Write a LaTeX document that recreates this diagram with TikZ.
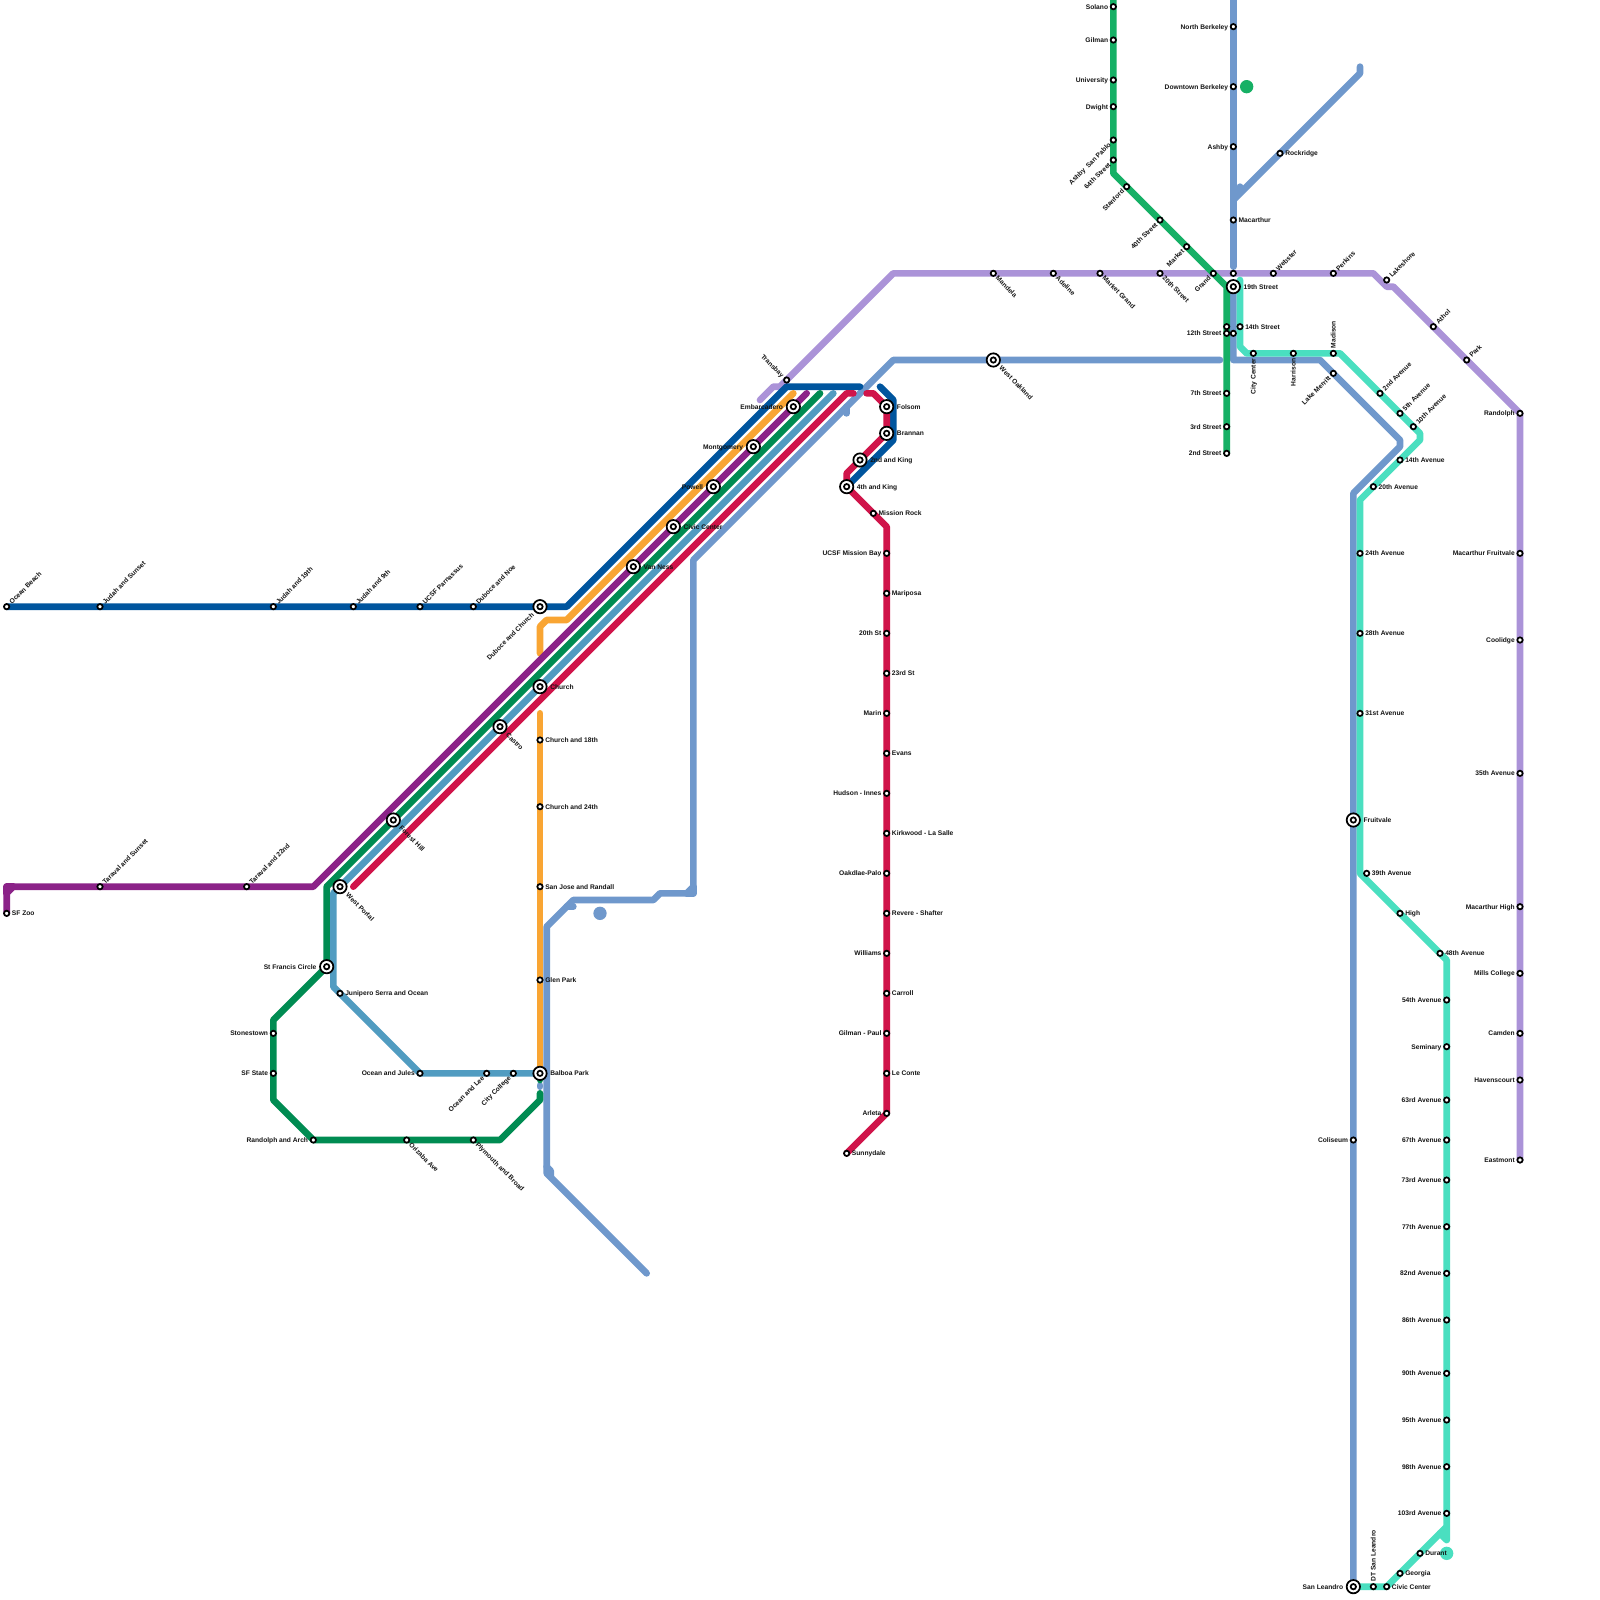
\documentclass[tikz,border=0pt]{standalone}
\usepackage{fontspec}
\setmainfont{Liberation Sans}[BoldFont={* Bold}]
\pgfdeclarelayer{lines}
\pgfsetlayers{lines,main}
\definecolor{cCrimson}{HTML}{D0144A}
\definecolor{cNavy}{HTML}{00559E}
\definecolor{cOrange}{HTML}{F9A533}
\definecolor{cPurple}{HTML}{8B2288}
\definecolor{cGreen}{HTML}{008C52}
\definecolor{cSteel}{HTML}{519CC1}
\definecolor{cPeri}{HTML}{6F98CC}
\definecolor{cLilac}{HTML}{AB93D8}
\definecolor{cBright}{HTML}{16B065}
\definecolor{cAqua}{HTML}{4ADFC0}
\newcommand\lbfont{\fontsize{5}{6}\selectfont\bfseries}
\def\labo{3.75pt}
\tikzset{
  metro/.style={line width=5pt,line cap=round,line join=round},
  stnode/.style={circle,draw=black,fill=white,line width=1.3pt,minimum size=4pt,inner sep=0pt},
  xfnode/.style={circle,draw=black,fill=white,line width=1.3pt,minimum size=10pt,inner sep=0pt},
  lab/.style={inner sep=0pt,font=\lbfont,text=black!92,text height=3.6pt,text depth=0pt},
  labR/.style={lab,anchor=west,xshift=\labo},
  labL/.style={lab,anchor=east,xshift=-\labo},
  labU/.style={lab,anchor=west,rotate=45,xshift=\labo},
  labD/.style={lab,anchor=west,rotate=-45,xshift=\labo},
  labB/.style={lab,anchor=east,rotate=45,xshift=-\labo},
  labA/.style={lab,anchor=east,rotate=-45,xshift=-\labo},
  labV/.style={lab,anchor=west,rotate=90,xshift=\labo},
  labW/.style={lab,anchor=east,rotate=90,xshift=-\labo},
}
\newcommand\mkst[5]{\node[stnode] (#1) at (#2,#3) {}; \node[lab#4] (#1-l) at (#1.center) {#5};}
\newcommand\mkxf[5]{\node[xfnode] (#1) at (#2,#3) {}; \node[stnode] (#1-i) at (#2,#3) {}; \def\labo{7.5pt}\node[lab#4] (#1-l) at (#1.center) {#5};\def\labo{3.75pt}}
\begin{document}
\begin{tikzpicture}[x=5pt,y=-5pt]
\useasboundingbox (0,0) rectangle (240,240);
% ---------- Stations
\mkst{obeach}{1}{91}{U}{Ocean Beach}
\mkst{jsunset}{15}{91}{U}{Judah and Sunset}
\mkst{j19}{41}{91}{U}{Judah and 19th}
\mkst{j9}{53}{91}{U}{Judah and 9th}
\mkst{ucsfp}{63}{91}{U}{UCSF Parnassus}
\mkst{dnoe}{71}{91}{U}{Duboce and Noe}
\mkxf{dchurch}{81}{91}{B}{Duboce and Church}
\mkst{zoo}{1}{137}{R}{SF Zoo}
\mkst{tsunset}{15}{133}{U}{Taraval and Sunset}
\mkst{t22}{37}{133}{U}{Taraval and 22nd}
\mkxf{wportal}{51}{133}{D}{West Portal}
\mkxf{fhill}{59}{123}{D}{Forest Hill}
\mkxf{castro}{75}{109}{D}{Castro}
\mkxf{church}{81}{103}{R}{Church}
\mkxf{vanness}{95}{85}{R}{Van Ness}
\mkxf{civic}{101}{79}{R}{Civic Center}
\mkxf{powell}{107}{73}{L}{Powell}
\mkxf{montg}{113}{67}{L}{Montgomery}
\mkxf{embarc}{119}{61}{L}{Embarcadero}
\mkst{transbay}{118}{57}{A}{Transbay}
\mkxf{folsom}{133}{61}{R}{Folsom}
\mkxf{brannan}{133}{65}{R}{Brannan}
\mkxf{king2}{129}{69}{R}{2nd and King}
\mkxf{king4}{127}{73}{R}{4th and King}
\mkst{mrock}{131}{77}{R}{Mission Rock}
\mkst{ucsfmb}{133}{83}{L}{UCSF Mission Bay}
\mkst{mariposa}{133}{89}{R}{Mariposa}
\mkst{s20}{133}{95}{L}{20th St}
\mkst{s23}{133}{101}{R}{23rd St}
\mkst{marin}{133}{107}{L}{Marin}
\mkst{evans}{133}{113}{R}{Evans}
\mkst{hudson}{133}{119}{L}{Hudson - Innes}
\mkst{kirk}{133}{125}{R}{Kirkwood - La Salle}
\mkst{oakd}{133}{131}{L}{Oakdlae-Palo}
\mkst{revere}{133}{137}{R}{Revere - Shafter}
\mkst{williams}{133}{143}{L}{Williams}
\mkst{carroll}{133}{149}{R}{Carroll}
\mkst{gilmanp}{133}{155}{L}{Gilman - Paul}
\mkst{leconte}{133}{161}{R}{Le Conte}
\mkst{arleta}{133}{167}{L}{Arleta}
\mkst{sunny}{127}{173}{R}{Sunnydale}
\mkxf{sfrancis}{49}{145}{L}{St Francis Circle}
\mkst{stones}{41}{155}{L}{Stonestown}
\mkst{sfstate}{41}{161}{L}{SF State}
\mkst{randarch}{47}{171}{L}{Randolph and Arch}
\mkst{orizaba}{61}{171}{D}{Orizaba Ave}
\mkst{plymouth}{71}{171}{D}{Plymouth and Broad}
\mkst{junipero}{51}{149}{R}{Junipero Serra and Ocean}
\mkst{ojules}{63}{161}{L}{Ocean and Jules}
\mkst{olee}{73}{161}{B}{Ocean and Lee}
\mkst{ccollege}{77}{161}{B}{City College}
\mkxf{balboa}{81}{161}{R}{Balboa Park}
\mkst{glen}{81}{147}{R}{Glen Park}
\mkst{sjr}{81}{133}{R}{San Jose and Randall}
\mkst{ch24}{81}{121}{R}{Church and 24th}
\mkst{ch18}{81}{111}{R}{Church and 18th}
\mkxf{woak}{149}{54}{D}{West Oakland}
\mkst{mandela}{149}{41}{D}{Mandela}
\mkst{adeline}{158}{41}{D}{Adeline}
\mkst{mgrand}{165}{41}{D}{Market Grand}
\mkst{street20}{174}{41}{D}{20th Street}
\mkst{solano}{167}{1}{L}{Solano}
\mkst{gilman}{167}{6}{L}{Gilman}
\mkst{univ}{167}{12}{L}{University}
\mkst{dwight}{167}{16}{L}{Dwight}
\mkst{asp}{167}{21}{B}{Ashby\ \ San Pablo}
\mkst{street64}{167}{24}{B}{64th Street}
\mkst{stanford}{169}{28}{B}{Stanford}
\mkst{street40}{174}{33}{B}{40th Street}
\mkst{market}{178}{37}{B}{Market}
\mkst{grand}{182}{41}{B}{Grand}
\mkst{nberk}{185}{4}{L}{North Berkeley}
\mkst{dberk}{185}{13}{L}{Downtown Berkeley}
\mkst{ashby}{185}{22}{L}{Ashby}
\mkst{macar}{185}{33}{R}{Macarthur}
\mkst{rock}{192}{23}{R}{Rockridge}
\node[stnode] (x41) at (185,41) {};
\mkxf{street19}{185}{43}{R}{19th Street}
\mkst{street14}{186}{49}{R}{14th Street}
\node[stnode] (x49) at (184,49) {};
\node[stnode] (x50) at (185,50) {};
\mkst{street12}{184}{50}{L}{12th Street}
\mkst{street7}{184}{59}{L}{7th Street}
\mkst{street3}{184}{64}{L}{3rd Street}
\mkst{street2}{184}{68}{L}{2nd Street}
\mkst{ccenter}{188}{53}{W}{City Center}
\mkst{harrison}{194}{53}{W}{Harrison}
\mkst{madison}{200}{53}{V}{Madison}
\mkst{lmerritt}{200}{56}{B}{Lake Merritt}
\mkst{webster}{191}{41}{U}{Webster}
\mkst{perkins}{200}{41}{U}{Perkins}
\mkst{lakesh}{208}{42}{U}{Lakeshore}
\mkst{athol}{215}{49}{U}{Athol}
\mkst{park}{220}{54}{U}{Park}
\mkst{randolph}{228}{62}{L}{Randolph}
\mkst{macfv}{228}{83}{L}{Macarthur Fruitvale}
\mkst{coolidge}{228}{96}{L}{Coolidge}
\mkst{av35}{228}{116}{L}{35th Avenue}
\mkst{machigh}{228}{136}{L}{Macarthur High}
\mkst{mills}{228}{146}{L}{Mills College}
\mkst{camden}{228}{155}{L}{Camden}
\mkst{haven}{228}{162}{L}{Havenscourt}
\mkst{eastm}{228}{174}{L}{Eastmont}
\mkst{av2}{207}{59}{U}{2nd Avenue}
\mkst{av5}{210}{62}{U}{5th Avenue}
\mkst{av10}{212}{64}{U}{10th Avenue}
\mkst{av14}{210}{69}{R}{14th Avenue}
\mkst{av20}{206}{73}{R}{20th Avenue}
\mkst{av24}{204}{83}{R}{24th Avenue}
\mkst{av28}{204}{95}{R}{28th Avenue}
\mkst{av31}{204}{107}{R}{31st Avenue}
\mkxf{fruitv}{203}{123}{R}{Fruitvale}
\mkst{av39}{205}{131}{R}{39th Avenue}
\mkst{high}{210}{137}{R}{High}
\mkst{av48}{216}{143}{R}{48th Avenue}
\mkst{av54}{217}{150}{L}{54th Avenue}
\mkst{seminary}{217}{157}{L}{Seminary}
\mkst{av63}{217}{165}{L}{63rd Avenue}
\mkst{av67}{217}{171}{L}{67th Avenue}
\mkst{av73}{217}{177}{L}{73rd Avenue}
\mkst{av77}{217}{184}{L}{77th Avenue}
\mkst{av82}{217}{191}{L}{82nd Avenue}
\mkst{av86}{217}{198}{L}{86th Avenue}
\mkst{av90}{217}{206}{L}{90th Avenue}
\mkst{av95}{217}{213}{L}{95th Avenue}
\mkst{av98}{217}{220}{L}{98th Avenue}
\mkst{av103}{217}{227}{L}{103rd Avenue}
\mkst{durant}{213}{233}{R}{Durant}
\mkst{georgia}{210}{236}{R}{Georgia}
\mkst{civicsl}{208}{238}{R}{Civic Center}
\mkst{dtsl}{206}{238}{V}{DT San Leandro}
\mkst{colis}{203}{171}{L}{Coliseum}
\mkxf{sanl}{203}{238}{L}{San Leandro}
% ---------- Bends and free ends
\foreach \n/\a/\b in {
 nb1/85/91,nb2/118/58,nb3/129/58,nb4/132/58,nb5/134/60,nb6/134/66,
 cr1/53/133,cr2/127/59,cr3/128/59,cr4/130/59,cr5/131/59,cr6/133/61,cr7/127/71,cr8/133/79,
 pu1/1/134,pu2/2/133,pu3/47/133,pu4/121/59,pu5/1/133,
 or1/119/59,or2/85/93,or3/82/93,or4/81/94,or5/81/98,or6/81/107,
 gr1/49/133,gr2/123/59,gr3/41/153,gr4/41/165,gr5/75/171,gr6/81/165,gr7/81/164,gr8/81/162,
 sb1/125/59,sb2/50/134,sb3/50/148,
 pt1/185/-1,pt2/185/40,pt3/185/44,pt4/185/54,pt5/198/54,pt6/210/66,pt7/210/67,pt8/203/74,
 pa1/97/191,pa2/82/176,pa3/82/139,pa4/86/135,pa5/98/135,pa6/99/134,pa7/103/134,pa8/104/133,pa9/104/84,pa10/134/54,pa11/183/54,pa12/104/134,
 ps1/82/175,ps2/82.6/175.6,ps3/82.6/176.4,ps4/85/136,ps5/86/136,ps6/127/61,ps7/127/62,
 pb1/186/28,pb2/186/29,pb3/185/30,pb4/204/11,pb5/204/10,pb6/81/163,pb7/81/162.8,pd1/90/137,
 li1/114/60,li2/116/58,li3/117/58,li4/134/41,li5/206/41,li6/208/43,li7/209/43,
 bg1/167/-1,bg2/167/26,bg3/184/43,gd1/187/13,
 aq1/186/42,aq2/186/52,aq3/187/53,aq4/201/53,aq5/213/65,aq6/213/66,aq7/204/75,aq8/204/131,aq9/217/144,aq10/217/229,aq11/216/230,aq12/217/231,ad1/217/233}
 {\coordinate (\n) at (\a,\b);}
% ---------- Lines
\begin{pgfonlayer}{lines}
\fill[white] (0,0) rectangle (240,240);
\begin{scope}[metro]
 \draw[cPeri] (pt1) -- (pt2);
 \draw[cPeri] (pt3) -- (pt4) -- (pt5) -- (pt6) -- (pt7) -- (pt8) -- (sanl.center);
 \draw[cPeri] (pa1) -- (pa2) -- (pa3) -- (pa4) -- (pa5) -- (pa6) -- (pa7) -- (pa8) -- (pa9) -- (pa10) -- (pa11);
 \draw[cPeri] (pa8) -- (pa12) -- (pa7);
 \draw[cPeri] (ps1) -- (ps2) -- (ps3);
 \draw[cPeri] (ps4) -- (ps5);
 \draw[cPeri] (ps6) -- (ps7);
 \draw[cPeri] (pb1) -- (pb2) -- (pb3) -- (pb4) -- (pb5);
 \draw[cPeri] (pb6) -- (pb7);
 \fill[cPeri] (pd1) circle[radius=1];
 \draw[cLilac] (li1) -- (li2) -- (li3) -- (li4) -- (li5) -- (li6) -- (li7) -- (randolph.center) -- (eastm.center);
 \draw[cBright] (bg1) -- (bg2) -- (bg3) -- (street2.center);
 \fill[cBright] (gd1) circle[radius=1];
 \draw[cAqua] (aq1) -- (aq2) -- (aq3) -- (aq4) -- (aq5) -- (aq6) -- (aq7) -- (aq8) -- (av48.center) -- (aq9) -- (aq10) -- (civicsl.center) -- (sanl.center);
 \draw[cAqua] (aq11) -- (aq12) -- (aq10);
 \fill[cAqua] (ad1) circle[radius=1];
 \draw[cNavy] (obeach.center) -- (nb1) -- (nb2) -- (nb3);
 \draw[cNavy] (nb4) -- (nb5) -- (nb6) -- (king4.center);
 \draw[cOrange] (or1) -- (or2) -- (or3) -- (or4) -- (or5);
 \draw[cOrange] (or6) -- (balboa.center);
 \draw[cPurple] (zoo.center) -- (pu1) -- (pu2) -- (pu3) -- (pu4);
 \draw[cPurple] (pu1) -- (pu5) -- (pu2);
 \draw[cGreen] (gr2) -- (gr1) -- (sfrancis.center) -- (gr3) -- (gr4) -- (randarch.center) -- (gr5) -- (gr6) -- (gr7);
 \draw[cGreen] (balboa.center) -- (gr8);
 \draw[cSteel] (sb1) -- (wportal.center) -- (sb2) -- (sb3) -- (junipero.center) -- (ojules.center) -- (balboa.center);
 \draw[cCrimson] (cr1) -- (cr2) -- (cr3);
 \draw[cCrimson] (cr4) -- (cr5) -- (cr6) -- (brannan.center) -- (cr7) -- (king4.center) -- (cr8) -- (arleta.center) -- (sunny.center);
\end{scope}
\end{pgfonlayer}
\end{tikzpicture}
\end{document}
